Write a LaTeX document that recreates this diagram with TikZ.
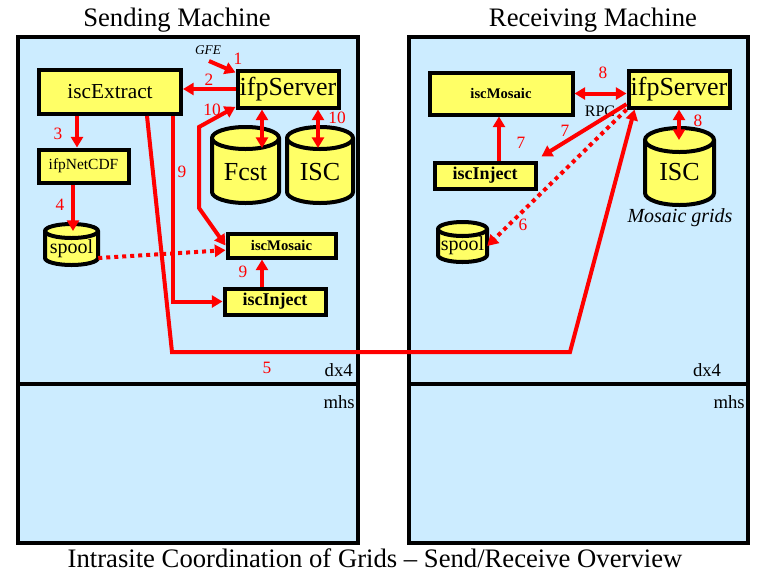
\documentclass[tikz,border=0pt]{standalone}
\usepackage{fontspec}
\setmainfont{Liberation Serif}
\usetikzlibrary{arrows.meta}
\definecolor{bgblue}{RGB}{204,236,255}
\definecolor{yfill}{RGB}{255,255,102}
\newcommand{\fsz}[1]{\fontsize{#1}{#1}\selectfont}
\newcommand{\cylshape}[5]{%
 \pgfmathsetmacro\cylrx{(#2-#1)/2*0.75}%
 \pgfmathsetmacro\cylry{#5*0.75}%
 \filldraw[cylst] (#1,#3+#5) -- (#1,#4-#5) arc[start angle=180,end angle=360,x radius=\cylrx pt,y radius=\cylry pt] -- (#2,#3+#5) arc[start angle=0,end angle=180,x radius=\cylrx pt,y radius=\cylry pt] -- cycle;
 \draw[cylst] (#1,#3+#5) arc[start angle=180,end angle=360,x radius=\cylrx pt,y radius=\cylry pt];}
\tikzset{
 mach/.style={draw=black, line width=2.5pt, fill=bgblue},
 machline/.style={draw=black, line width=2.5pt},
 box/.style={draw=black, line width=3pt, fill=yfill, inner sep=0pt, align=center},
 cylst/.style={draw=black, line width=3pt, fill=yfill},
 cyltxt/.style={inner sep=0pt},
 rl/.style={red, line width=3pt, >={Triangle[length=8pt,width=9pt]}},
 dots/.style={rl, dash pattern=on 3pt off 3pt},
 num/.style={red, font=\fsz{13}, inner sep=0pt},
 lbl/.style={inner sep=0pt}
}
\begin{document}
\begin{tikzpicture}[x=0.75pt,y=-0.75pt]
\useasboundingbox (0,0) rectangle (768,576);
\fill[white] (0,0) rectangle (768,576);
% machines
\draw[mach] (18,37) rectangle (358,543);
\draw[machline] (18,384) -- (358,384);
\draw[mach] (409,37) rectangle (748,543);
\draw[machline] (409,384) -- (748,384);
% titles
\node[lbl, font=\fsz{20}] (t1) at (177,20) {Sending Machine};
\node[lbl, font=\fsz{20}] (t2) at (593,20) {Receiving Machine};
\node[lbl, font=\fsz{20}] (cap) at (375,558) {Intrasite Coordination of Grids – Send/Receive Overview};
\node[lbl, font=\fsz{14}, anchor=east] (dxl) at (353,370) {dx4};
\node[lbl, font=\fsz{14}, anchor=east] (mhl) at (355,402) {mhs};
\node[lbl, font=\fsz{14}] (dxr) at (707,370) {dx4};
\node[lbl, font=\fsz{14}, anchor=east] (mhr) at (745,402) {mhs};
% boxes left
\node[box, minimum width=106.5pt, minimum height=33pt, font=\fsz{16}] (iscExtract) at (110,92) {iscExtract};
\node[box, minimum width=75.75pt, minimum height=27.75pt, font=\fsz{19.5}] (ifpL) at (288,89) {ifpServer};
\node[box, minimum width=67.5pt, minimum height=24.75pt, font=\fsz{11.6}] (ifpNetCDF) at (83.5,166) {ifpNetCDF};
\node[box, minimum width=81pt, minimum height=18pt, font=\bfseries\fsz{11}] (iscMosL) at (281.5,245.5) {iscMosaic};
\node[box, minimum width=75.75pt, minimum height=19.5pt, font=\bfseries\fsz{13.5}] (iscInjL) at (275,301.5) {iscInject};
% boxes right
\node[box, minimum width=107.25pt, minimum height=31.5pt, font=\bfseries\fsz{11}] (iscMosR) at (501,93.5) {iscMosaic};
\node[box, minimum width=75.75pt, minimum height=27.75pt, font=\fsz{19.5}] (ifpR) at (679,89) {ifpServer};
\node[box, minimum width=75.75pt, minimum height=19.5pt, font=\bfseries\fsz{13.5}] (iscInjR) at (485,175.5) {iscInject};
% cylinders
\cylshape{212}{279}{127}{203}{11}
\node[cyltxt, minimum width=50.25pt, font=\fsz{19.5}] (fcst) at (245.5,172) {Fcst};
\cylshape{287}{353}{127}{203}{11}
\node[cyltxt, minimum width=49.5pt, font=\fsz{19.5}] (iscL) at (320,172) {ISC};
\cylshape{645}{714}{128}{205}{12}
\node[cyltxt, minimum width=51.75pt, font=\fsz{19.5}] (iscR) at (679.5,172) {ISC};
\cylshape{45}{98}{224}{265}{7}
\node[cyltxt, minimum width=39.75pt, font=\fsz{15}] (spoolL) at (71.5,249) {spool};
\cylshape{438}{487}{222}{262}{7}
\node[cyltxt, minimum width=36.75pt, font=\fsz{15}] (spoolR) at (462.5,246) {spool};
% other texts
\node[lbl, font=\itshape\fsz{10}] (gfe) at (208,50) {GFE};
\node[lbl, font=\fsz{12}] (rpc) at (600,111) {RPC};
\node[lbl, font=\itshape\fsz{15}] (mg) at (680,218) {Mosaic grids};
% helper coordinates
\coordinate (fcstin) at (262,148);
\coordinate (iscLin) at (318,148);
\coordinate (iscRin) at (679,140);
\coordinate (spoolLin) at (73,231);
\coordinate (gfe1) at (209,61);
\coordinate (c3) at (77,0);
\coordinate (c4) at (73,0);
\coordinate (c9) at (173,0);
\coordinate (c5) at (147,0);
\coordinate (c9b) at (262,0);
\coordinate (c7) at (499,0);
\coordinate (k10a) at (199,208);
\coordinate (k10b) at (199,127);
\coordinate (k5a) at (172,352);
\coordinate (k5b) at (570,352);
% connectors
\draw[rl,->] (gfe1) -- ([yshift=-3pt]ifpL.north west);
\draw[rl,->] (ifpL.west) -- (ifpL.west -| iscExtract.east);
\draw[rl,<->] (ifpL.south -| fcstin) -- (fcstin);
\draw[rl,<->] (ifpL.south -| iscLin) -- (iscLin);
\draw[rl,<->] (iscMosL.west) -- (k10a) -- (k10b) -- ([yshift=2pt]ifpL.south west);
\draw[rl,->] (iscExtract.south -| c3) -- (ifpNetCDF.north -| c3);
\draw[rl,->] (ifpNetCDF.south -| c4) -- (spoolLin);
\draw[dots,->] ([yshift=-6.75pt]spoolL.east) -- ([yshift=-3.5pt]iscMosL.west);
\draw[rl,->] (iscExtract.south -| c9) -- (c9 |- iscInjL.west) -- (iscInjL.west);
\draw[rl,->] (iscInjL.north -| c9b) -- (iscMosL.south -| c9b);
\draw[rl,->] (iscExtract.south -| c5) -- (k5a) -- (k5b) -- ([xshift=6pt]ifpR.south west);
\draw[rl,<->] (iscMosR.east) -- (iscMosR.east -| ifpR.west);
\draw[rl,<->] (ifpR.south) -- (iscRin);
\draw[rl,->] (iscInjR.north -| c7) -- (iscMosR.south -| c7);
\draw[rl,->] ([yshift=4pt]ifpR.south west) -- ([xshift=3pt,yshift=3pt]iscInjR.north east);
\draw[dots,->] (ifpR.south west) -- (spoolR.east);
% numbers
\node[num] (n1) at (238,59) {1};
\node[num] (n2) at (209,80) {2};
\node[num] (n3) at (58,134) {3};
\node[num] (n4) at (60,205) {4};
\node[num] (n10a) at (212,110) {10};
\node[num] (n10b) at (337,118) {10};
\node[num] (n9a) at (182,172) {9};
\node[num] (n9b) at (243,272) {9};
\node[num] (n5) at (267,368) {5};
\node[num] (n8a) at (603,73) {8};
\node[num] (n8b) at (698,121) {8};
\node[num] (n7a) at (521,143) {7};
\node[num] (n7b) at (565,131) {7};
\node[num] (n6) at (523,225) {6};
\end{tikzpicture}
\end{document}
